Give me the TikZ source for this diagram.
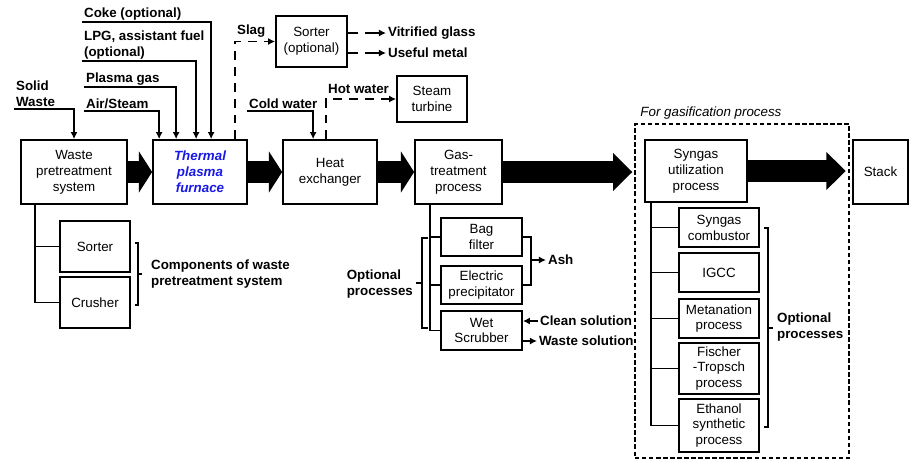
\documentclass[tikz,border=0pt]{standalone}
\usepackage{fontspec}
\setmainfont{Liberation Sans}
\usetikzlibrary{arrows.meta,calc}
\definecolor{furnaceblue}{RGB}{25,25,230}
\begin{document}
\fontsize{7.6}{9}\selectfont
\begin{tikzpicture}[x=0.02cm,y=-0.02cm,
  box/.style={draw,line width=1pt,align=center,inner sep=0.5pt},
  lbl/.style={font=\bfseries,align=left,inner sep=1pt},
  conn/.style={line width=0.9pt},
  arr/.style={conn,-{Latex[length=4pt,width=4pt]}},
  dasharr/.style={arr,dash pattern=on 5pt off 4pt},
  sortarr/.style={arr,dash pattern=on 5.5pt off 4.5pt on 30pt},
  bigarr/.style={line width=12pt,-{Triangle[length=7.5pt,width=23pt]}},
  longarr/.style={line width=12pt,-{Triangle[length=11pt,width=21pt]}}]
\useasboundingbox (0,0) rectangle (911,460);

\node[box,minimum width=2.12cm,minimum height=1.28cm] (waste) at (74,172) {Waste\\pretreatment\\system};
\node[box,minimum width=1.88cm,minimum height=1.28cm,text=furnaceblue,font=\bfseries\itshape] (furnace) at (200,172) {Thermal\\plasma\\furnace};
\node[box,minimum width=1.88cm,minimum height=1.28cm] (heatex) at (330,172) {Heat\\exchanger};
\node[box,minimum width=1.74cm,minimum height=1.28cm] (gastreat) at (458.5,172) {Gas-\\treatment\\process};
\node[box,minimum width=2.04cm,minimum height=1.24cm] (syngas) at (696,171) {Syngas\\utilization\\process};
\node[box,minimum width=1.1cm,minimum height=1.28cm] (stack) at (880.5,172) {Stack};

\node[box,minimum width=1.42cm,minimum height=1.02cm] (sorter) at (311.5,41.5) {Sorter\\(optional)};
\node[box,minimum width=1.4cm,minimum height=0.92cm] (turbine) at (432,99) {Steam\\turbine};

\node[box,minimum width=1.4cm,minimum height=1.02cm] (psorter) at (95,246.5) {Sorter};
\node[box,minimum width=1.4cm,minimum height=1.02cm] (crusher) at (95,302.5) {Crusher};

\node[box,minimum width=1.62cm,minimum height=0.76cm] (bag) at (481.5,237) {Bag\\filter};
\node[box,minimum width=1.62cm,minimum height=0.76cm] (elec) at (481.5,285) {Electric\\precipitator};
\node[box,minimum width=1.62cm,minimum height=0.78cm] (wet) at (481.5,330.5) {Wet\\Scrubber};

\node[draw,dash pattern=on 2.5pt off 1.5pt,line width=0.8pt,minimum width=4.28cm,minimum height=6.68cm] (gasframe) at (742,291) {};
\node[font=\itshape,anchor=south west,inner sep=1pt] (gaslabel) at ($(gasframe.north west)+(4,-2)$) {For gasification process};

\node[box,minimum width=1.6cm,minimum height=0.78cm] (comb) at (719,227.5) {Syngas\\combustor};
\node[box,minimum width=1.6cm,minimum height=0.78cm] (igcc) at (719,272.5) {IGCC};
\node[box,minimum width=1.6cm,minimum height=0.78cm] (meta) at (719,318.5) {Metanation\\process};
\node[box,minimum width=1.6cm,minimum height=1.02cm] (fischer) at (719,368.5) {Fischer\\-Tropsch\\process};
\node[box,minimum width=1.6cm,minimum height=1.06cm] (ethanol) at (719,425.5) {Ethanol\\synthetic\\process};

\draw[bigarr] (waste.east) -- (furnace.west);
\draw[bigarr] (furnace.east) -- (heatex.west);
\draw[bigarr] (heatex.east) -- (gastreat.west);
\draw[longarr] (gastreat.east) -- ($(gastreat.east -| gasframe.west)+(-2,0)$);
\draw[longarr] (syngas.east) -- ($(syngas.east -| gasframe.east)+(-4,0)$);

\node[lbl,anchor=south west] (solid) at (14,109) {Solid\\Waste};
\node[lbl,anchor=south west] (coke) at (82,22) {Coke (optional)};
\node[lbl,anchor=south west] (lpg) at (82,61) {LPG, assistant fuel\\(optional)};
\node[lbl,anchor=south west] (plasma) at (84,87) {Plasma gas};
\node[lbl,anchor=south west] (air) at (84,111) {Air/Steam};
\draw[arr] (solid.south west) -| (waste.north);
\draw[arr] (coke.south west) -| ($(furnace.north west)+(59,0)$);
\draw[arr] (lpg.south west) -| ($(furnace.north west)+(44,0)$);
\draw[arr] (plasma.south west) -| ($(furnace.north west)+(24,0)$);
\draw[arr] (air.south west) -| ($(furnace.north west)+(7,0)$);

\node[lbl,anchor=south west] (slag) at (235,39) {Slag};
\draw[dasharr] ($(furnace.north west)+(83,0)$) |- (sorter.west);
\node[lbl,anchor=west] (glass) at (386,33) {Vitrified glass};
\node[lbl,anchor=west] (metal) at (386,53) {Useful metal};
\draw[sortarr] (sorter.east |- glass.west) -- (glass.west);
\draw[sortarr] (sorter.east |- metal.west) -- (metal.west);

\node[lbl,anchor=south west] (cold) at (247,111) {Cold water};
\draw[arr] (cold.south west) -| ($(heatex.north west)+(31,0)$);
\node[lbl,anchor=south west] (hot) at (326,96) {Hot water};
\draw[dasharr] ($(heatex.north west)+(44,0)$) |- (turbine.west);

\draw[conn] ($(waste.south west)+(15,0)$) |- (psorter.west);
\draw[conn] ($(waste.south west)+(15,0)$) |- (crusher.west);
\draw[conn] (135,243) -- (138,243) -- (138,305) -- (135,305);
\draw[conn] (138,274) -- (142,274);
\node[lbl,anchor=west] (wastecomp) at (149,274) {Components of waste\\pretreatment system};

\draw[conn] ($(gastreat.south west)+(16,0)$) |- (bag.west);
\draw[conn] ($(gastreat.south west)+(16,0)$) |- (elec.west);
\draw[conn] ($(gastreat.south west)+(16,0)$) |- (wet.west);
\draw[conn] (428,238) -- (422,238) -- (422,328) -- (428,328);
\draw[conn] (422,283) -- (416,283);
\node[lbl,anchor=east] (gasopt) at (415,284) {Optional\\processes};

\draw[conn] (bag.east) -- ++(8,0) coordinate (ashtop) |- (elec.east);
\node[lbl,anchor=west] (ash) at (546,260) {Ash};
\draw[arr] (ashtop |- ash.west) -- (ash.west);
\node[lbl,anchor=west] (clean) at (538,321) {Clean solution};
\node[lbl,anchor=west] (wastesol) at (537,341) {Waste solution};
\draw[arr] (clean.west) -- (clean.west -| wet.east);
\draw[arr] (wet.east |- wastesol.west) -- (wastesol.west);

\foreach \n in {comb,igcc,meta,fischer,ethanol}
  \draw[conn] ($(syngas.south west)+(7,0)$) |- (\n.west);
\draw[conn] (764,228) -- (768,228) -- (768,427) -- (764,427);
\draw[conn] (768,328) -- (773,328);
\node[lbl,anchor=west] (synopt) at (775,327) {Optional\\processes};

\end{tikzpicture}
\end{document}
